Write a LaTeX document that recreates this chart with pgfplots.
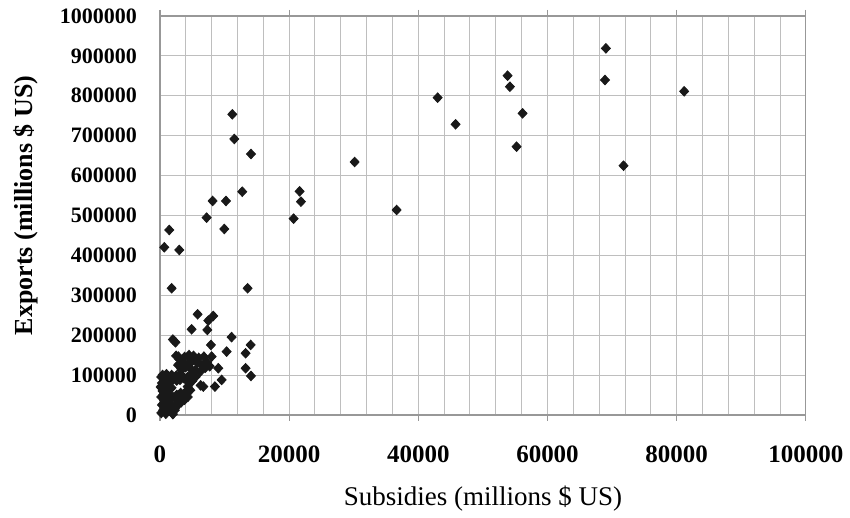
\documentclass[border=0pt]{standalone}
\usepackage{fontspec}
\setmainfont{Liberation Serif}
\usepackage{pgfplots}
\pgfplotsset{compat=1.18}
\definecolor{gridc}{RGB}{190,190,190}
\definecolor{markc}{RGB}{25,25,25}
\begin{document}
\begin{tikzpicture}
\begin{axis}[
  scale only axis,
  width=323pt, height=199.5pt,
  xmin=0, xmax=100000, ymin=0, ymax=1000000,
  xtick={0,20000,40000,60000,80000,100000},
  xticklabels={0,20000,40000,60000,80000,100000},
  ytick={0,100000,200000,300000,400000,500000,600000,700000,800000,900000,1000000},
  yticklabels={0,100000,200000,300000,400000,500000,600000,700000,800000,900000,1000000},
  minor x tick num=4,
  grid=both,
  major grid style={gridc, line width=0.5pt},
  minor grid style={gridc, line width=0.5pt},
  axis line style={gridc!80!black, line width=0.6pt},
  x tick style={gridc!80!black, line width=0.6pt},
  minor x tick style={draw=none},
  y tick style={draw=none},
  tick align=outside,
  major tick length=3pt,
  scaled ticks=false,
  xticklabel style={font=\fontsize{12.5}{14}\selectfont\bfseries, yshift=-9pt},
  yticklabel style={font=\fontsize{11}{13}\selectfont\bfseries, xshift=-5pt},
  xlabel={Subsidies (millions \$ US)},
  ylabel={Exports (millions \$ US)},
  xlabel style={font=\fontsize{13.5}{15}\selectfont, yshift=-4.5pt},
  ylabel style={font=\fontsize{13}{15}\selectfont\bfseries, yshift=4pt, xshift=5pt},
]
\addplot[only marks, mark=diamond*, mark size=2.4pt, mark options={xscale=1.25, fill=markc, draw=markc}] table {
x y
69040 918900
68900 839500
81160 811200
53820 850300
54180 822700
42990 795200
56140 756000
45770 728500
55210 672400
71770 624800
30140 634000
21620 560500
21830 534600
20690 492000
36640 513700
11200 753500
11510 691700
14090 654000
12740 559600
8150 536300
10220 536300
7220 494500
9960 466100
1440 463600
670 420200
2990 413500
1810 317500
13570 317500
5830 252300
8250 248100
7480 236400
4900 214700
7330 213000
2000 189000
2400 182000
11090 195000
7890 175400
14040 175400
10320 158700
13260 154600
2840 146200
8000 146200
9030 117000
13260 117000
14090 97700
9550 87700
4290 71000
6710 71000
6300 74000
8510 71000
2500 148000
3000 140000
3800 145000
4500 150000
5200 148000
6000 143000
6800 146000
3500 132000
4300 128000
5000 135000
5800 130000
6500 125000
7000 118000
4000 120000
4800 115000
5500 112000
6200 108000
3300 112000
2800 125000
7300 132000
7700 122000
200 5000
500 12000
900 3000
300 25000
800 22000
1300 10000
1800 8000
200 45000
600 38000
1100 33000
1600 28000
2200 20000
2800 25000
3300 32000
3800 38000
4300 45000
400 60000
900 55000
1400 50000
2000 45000
2600 50000
3200 55000
4000 58000
4700 62000
300 80000
700 75000
1200 70000
1800 68000
200 95000
600 92000
1100 88000
1600 85000
2100 90000
2600 86000
3100 88000
3700 92000
4300 95000
4800 100000
1000 102000
1800 100000
2500 98000
3200 102000
5000 85000
4500 80000
5500 95000
500 50000
100 70000
2300 12000
1500 18000
400 100000
1300 97000
2000 2000
3900 50000
1200 60000
700 15000
1500 40000
2700 36000
3500 45000
5200 105000
};
\end{axis}
\useasboundingbox ([xshift=-80pt,yshift=-51.5pt]current axis.south west) rectangle ([xshift=22pt,yshift=8pt]current axis.north east);
\end{tikzpicture}
\end{document}
